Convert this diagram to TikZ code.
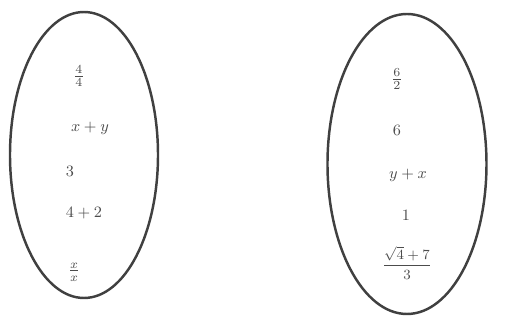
\documentclass[tikz,border=0pt]{standalone}
\usepackage{amsmath,amssymb}
\usepackage{tikz}
\usetikzlibrary{shapes.geometric}

\begin{document}
\begin{tikzpicture}[
  x=0.02cm, y=-0.02cm,
  font=\small,
  set/.style={draw=black!75, line width=1.4pt, ellipse, inner sep=0pt},
  item/.style={text=black!70, inner sep=1pt},
  frac/.style={item, font=\normalsize},
]
\useasboundingbox (0,0) rectangle (512,320);

% Left set
\node[set, minimum width=148*0.02cm, minimum height=286*0.02cm] (lset) at (84,155) {};
\node[frac] (l1) at (79,76) {$\tfrac{4}{4}$};
\node[item] (l2) at (90,128) {$x+y$};
\node[item] (l3) at (70,171) {$3$};
\node[item] (l4) at (84,213) {$4+2$};
\node[frac] (l5) at (74,272) {$\tfrac{x}{x}$};

% Right set
\node[set, minimum width=159*0.02cm, minimum height=300*0.02cm] (rset) at (407,164) {};
\node[frac] (r1) at (397,79) {$\tfrac{6}{2}$};
\node[item] (r2) at (397,130) {$6$};
\node[item] (r3) at (408,175) {$y+x$};
\node[item] (r4) at (406,215) {$1$};
\node[item] (r5) at (407,263) {\footnotesize$\dfrac{\sqrt{4}+7}{3}$};

\end{tikzpicture}
\end{document}
